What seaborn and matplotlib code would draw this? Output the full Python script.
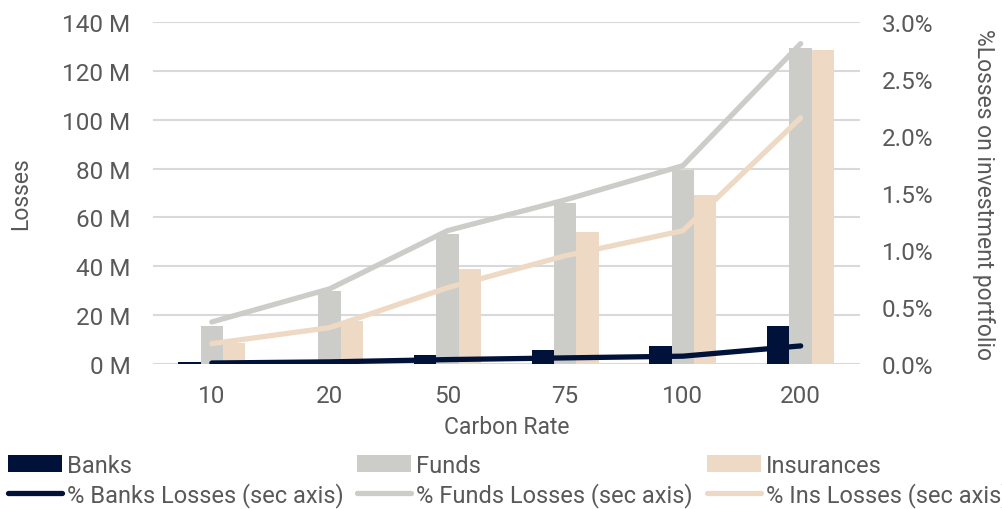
import numpy as np
import pandas as pd
import matplotlib
matplotlib.use('Agg')
import matplotlib.pyplot as plt
import seaborn as sns
from matplotlib.ticker import FuncFormatter, PercentFormatter
from matplotlib.patches import Patch
from matplotlib.lines import Line2D

# ----------------------------
# Data
# ----------------------------
carbon_rates = ['10', '20', '50', '75', '100', '200']

banks_losses = [0.8, 1.6, 3.8, 5.6, 7.4, 15.6]          # M
funds_losses = [15.7, 30.0, 53.3, 66.0, 79.4, 129.3]    # M
ins_losses = [8.6, 17.7, 38.9, 54.0, 69.2, 128.5]       # M

banks_pct = [0.01, 0.02, 0.04, 0.055, 0.07, 0.16]       # %
funds_pct = [0.37, 0.66, 1.17, 1.44, 1.74, 2.81]        # %
ins_pct = [0.18, 0.32, 0.67, 0.95, 1.17, 2.16]          # %

groups = ['Banks', 'Funds', 'Insurances']
colors = {'Banks': '#00113A', 'Funds': '#CCCDC8', 'Insurances': '#EED9C4'}

bars = pd.DataFrame({
    'Carbon Rate': carbon_rates * 3,
    'Group': [g for g in groups for _ in carbon_rates],
    'Losses': banks_losses + funds_losses + ins_losses,
})

lines = pd.DataFrame({
    'pos': list(range(len(carbon_rates))) * 3,
    'Group': [g for g in groups for _ in carbon_rates],
    'Pct': banks_pct + funds_pct + ins_pct,
})

# ----------------------------
# Style
# ----------------------------
sns.set_style('white')
plt.rcParams['font.family'] = ['Roboto', 'DejaVu Sans']
text_col = '#595959'

fig, ax = plt.subplots(figsize=(10.03, 5.10), dpi=100)
fig.subplots_adjust(left=0.1525, right=0.857, top=0.955, bottom=0.284)

sns.barplot(data=bars, x='Carbon Rate', y='Losses', hue='Group',
            hue_order=groups, palette=colors, width=0.57, gap=0,
            order=carbon_rates, ax=ax, legend=False, saturation=1,
            linewidth=0, edgecolor='none')

ax.set_ylim(0, 140)
ax.set_yticks(np.arange(0, 141, 20))
ax.yaxis.set_major_formatter(FuncFormatter(lambda v, p: f'{v:.0f} M'))
ax.set_xlim(-0.5, len(carbon_rates) - 0.5)
ax.grid(axis='y', color='#D9D9D9', linewidth=1.5)
ax.set_axisbelow(True)
ax.set_xlabel('Carbon Rate', fontsize=16.5, color=text_col, labelpad=6)
ax.set_ylabel('Losses', fontsize=16.5, color=text_col, labelpad=22)
ax.tick_params(axis='y', length=0, labelsize=17.5, colors=text_col, pad=16)
ax.tick_params(axis='x', length=0, labelsize=17.5, colors=text_col, pad=14)
for s in ax.spines.values():
    s.set_visible(False)

ax2 = ax.twinx()
sns.lineplot(data=lines, x='pos', y='Pct', hue='Group', hue_order=groups,
             palette=colors, linewidth=3.8, ax=ax2, legend=False,
             solid_capstyle='round')
ax2.set_ylim(0, 3.0)
ax2.set_yticks(np.arange(0, 3.01, 0.5))
ax2.yaxis.set_major_formatter(PercentFormatter(decimals=1))
ax2.set_xlim(-0.5, len(carbon_rates) - 0.5)
ax2.set_ylabel('%Losses on investment portfolio', fontsize=16.5,
               color=text_col, rotation=270, labelpad=44)
ax2.tick_params(axis='y', length=0, labelsize=17.5, colors=text_col, pad=16)
ax2.set_xlabel('')
for s in ax2.spines.values():
    s.set_visible(False)

# ----------------------------
# Legend: three columns below the chart
# ----------------------------
line_labels = ['% Banks Losses (sec axis)', '% Funds Losses (sec axis)',
               '% Ins Losses (sec axis)']
col_x = [0.008, 0.356, 0.705]
for g, lab, x in zip(groups, line_labels, col_x):
    handles = [Patch(facecolor=colors[g], edgecolor='none'),
               Line2D([0], [0], color=colors[g], linewidth=3.8,
                      solid_capstyle='round')]
    fig.legend(handles, [g, lab], loc='upper left', bbox_to_anchor=(x, 0.108),
               frameon=False, fontsize=17, handlelength=2.3,
               handletextpad=0.2, labelspacing=0.2, borderaxespad=0,
               borderpad=0, labelcolor=text_col)

fig.savefig('out.png', dpi=100)
